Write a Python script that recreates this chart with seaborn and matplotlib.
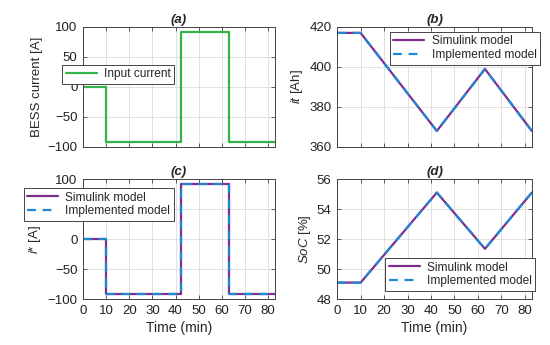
import matplotlib
matplotlib.use("Agg")
import matplotlib.pyplot as plt
import pandas as pd
import seaborn as sns
from matplotlib.ticker import MultipleLocator

# dados
t_degrau = [0, 10, 10, 42.5, 42.5, 63, 63, 83]
corrente = [0, 0, -91, -91, 91, 91, -91, -91]

t_rampa = [0, 10, 42.5, 63, 83]
it_ah = [417, 417, 368, 399, 368]
soc = [49.1, 49.1, 55.1, 51.35, 55.1]

cor_verde = "#33b44a"
cor_roxo = "#7e2f8e"
cor_azul = "#1e88d2"

sns.set_theme(style="whitegrid")
plt.rcParams["font.family"] = ["Liberation Sans", "DejaVu Sans"]
plt.rcParams["mathtext.fontset"] = "custom"
plt.rcParams["mathtext.it"] = "Liberation Sans:italic"
plt.rcParams["mathtext.rm"] = "Liberation Sans"

fig = plt.figure(figsize=(5.5, 3.45), dpi=100)
ax_a = fig.add_axes([0.151, 0.574, 0.349, 0.348])
ax_b = fig.add_axes([0.613, 0.574, 0.354, 0.348])
ax_c = fig.add_axes([0.151, 0.133, 0.349, 0.348])
ax_d = fig.add_axes([0.613, 0.133, 0.354, 0.348])

df_i = pd.DataFrame({"t": t_degrau, "i": corrente})
df_r = pd.DataFrame({"t": t_rampa, "it": it_ah, "soc": soc})

sns.lineplot(data=df_i, x="t", y="i", sort=False, estimator=None, color=cor_verde,
             linewidth=1.6, label="Input current", ax=ax_a)

for ax, df, col in [(ax_b, df_r, "it"), (ax_c, df_i, "i"), (ax_d, df_r, "soc")]:
    sns.lineplot(data=df, x="t", y=col, sort=False, estimator=None, color=cor_roxo,
                 linewidth=1.6, label="Simulink model", ax=ax)
    sns.lineplot(data=df, x="t", y=col, sort=False, estimator=None, color=cor_azul,
                 linewidth=1.6, linestyle=(0, (4, 3)), label="Implemented model", ax=ax)

config = [
    (ax_a, "(a)", "BESS current [A]", (-100, 100), 50, (-0.11, 0.685)),
    (ax_b, "(b)", r"$it$ [Ah]", (360, 420), 20, (0.27, 0.96)),
    (ax_c, "(c)", r"$i$* [A]", (-100, 100), 50, (-0.31, 0.925)),
    (ax_d, "(d)", r"$SoC$ [%]", (48, 56), 2, (0.246, 0.342)),
]

for ax, titulo, ylab, ylim, passo, pos in config:
    ax.set_xlim(0, 83)
    ax.set_ylim(*ylim)
    ax.xaxis.set_major_locator(MultipleLocator(10))
    ax.yaxis.set_major_locator(MultipleLocator(passo))
    ax.set_title(titulo, fontsize=9.5, fontweight="bold", fontstyle="italic", pad=3)
    ax.set_ylabel(ylab, fontsize=9.5, labelpad=3)
    ax.set_xlabel("")
    ax.grid(True, color="#dcdcdc", linewidth=0.6)
    for s in ax.spines.values():
        s.set_color("#444444")
        s.set_linewidth(0.7)
    ax.tick_params(direction="in", length=3, width=0.6, colors="#444444", labelcolor="#222222",
                   labelsize=9.5, top=True, right=True, pad=4)
    ax.tick_params(axis="both", which="both", bottom=True, left=True)
    leg = ax.legend(loc="upper left", bbox_to_anchor=pos, fontsize=8.6, frameon=True,
                    fancybox=False, framealpha=1, edgecolor="#444444",
                    handlelength=2.6, borderpad=0.3, labelspacing=0.15, handletextpad=0.6,
                    borderaxespad=0)
    leg.get_frame().set_linewidth(0.7)

for ax in (ax_a, ax_b):
    ax.set_xticklabels([])

for ax in (ax_c, ax_d):
    ax.set_xlabel("Time (min)", fontsize=10, labelpad=3)

fig.savefig("out.png", dpi=100)
